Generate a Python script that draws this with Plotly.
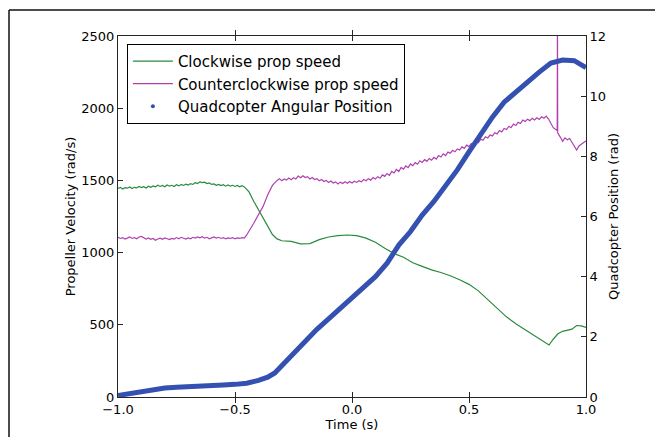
import plotly.graph_objects as go

# ---- data ----
# Clockwise prop speed (rad/s)
cw_t_early = [round(-1.00 + 0.01 * i, 2) for i in range(55)]          # -1.00 .. -0.46
cw_early = [1445, 1452, 1440, 1450, 1446, 1455, 1444, 1452, 1448, 1458,
            1450, 1456, 1447, 1460, 1452, 1462, 1455, 1466, 1458, 1465,
            1456, 1468, 1460, 1466, 1458, 1470, 1462, 1472, 1465, 1474,
            1468, 1478, 1472, 1484, 1478, 1490, 1485, 1488, 1478, 1482,
            1472, 1476, 1466, 1472, 1464, 1470, 1460, 1468, 1460, 1466,
            1458, 1465, 1456, 1464, 1455]
cw_t_late = [-0.44, -0.42, -0.40, -0.38, -0.36, -0.34, -0.32, -0.30, -0.26, -0.22, -0.18,
             -0.14, -0.10, -0.06, -0.02, 0.02, 0.06, 0.10, 0.14, 0.18, 0.22, 0.26, 0.30, 0.34,
             0.38, 0.42, 0.46, 0.50, 0.54, 0.58, 0.62, 0.66, 0.70, 0.74, 0.78, 0.82, 0.842,
             0.86, 0.88, 0.90, 0.92, 0.94, 0.96, 0.98, 1.0]
cw_late = [1420, 1355, 1295, 1235, 1180, 1125, 1095, 1082, 1078, 1060, 1062,
           1090, 1108, 1118, 1122, 1117, 1100, 1072, 1030, 993, 968, 930, 905, 880,
           862, 840, 812, 780, 735, 675, 610, 555, 508, 465, 425, 385, 360,
           400, 438, 455, 462, 470, 495, 492, 482]

# Counterclockwise prop speed (rad/s)
ccw_t_early = [round(-1.00 + 0.01 * i, 2) for i in range(55)]         # -1.00 .. -0.46
ccw_early = [1106, 1098, 1104, 1094, 1100, 1108, 1098, 1104, 1096, 1108,
             1112, 1100, 1094, 1102, 1092, 1098, 1086, 1094, 1100, 1092,
             1102, 1096, 1090, 1098, 1094, 1104, 1096, 1106, 1100, 1094,
             1102, 1096, 1106, 1100, 1108, 1102, 1110, 1100, 1106, 1096,
             1102, 1108, 1100, 1106, 1098, 1104, 1096, 1102, 1098, 1104,
             1096, 1102, 1098, 1104, 1100]
ccw_t_rise = [-0.45, -0.42, -0.40, -0.38, -0.36, -0.34, -0.32]
ccw_rise = [1122, 1203, 1260, 1320, 1400, 1465, 1500]
ccw_t_mid = [round(-0.31 + 0.01 * i, 2) for i in range(118)]           # -0.31 .. 0.86
ccw_mid = [1512, 1498, 1510, 1502, 1516, 1505, 1518, 1510, 1530, 1518,
           1532, 1520, 1526, 1510, 1520, 1506, 1512, 1498, 1506, 1492,
           1500, 1486, 1496, 1482, 1490, 1476, 1488, 1478, 1490, 1480,
           1492, 1482, 1494, 1486, 1498, 1490, 1506, 1498, 1512, 1502,
           1520, 1510, 1526, 1515, 1538, 1528, 1548, 1535, 1562, 1552,
           1576, 1562, 1590, 1578, 1600, 1588, 1614, 1602, 1624, 1612,
           1636, 1624, 1644, 1632, 1652, 1640, 1660, 1648, 1672, 1662,
           1684, 1672, 1696, 1688, 1708, 1698, 1718, 1710, 1732, 1722,
           1744, 1734, 1756, 1748, 1772, 1762, 1786, 1778, 1802, 1794,
           1814, 1808, 1830, 1822, 1846, 1836, 1860, 1852, 1874, 1866,
           1890, 1880, 1902, 1894, 1918, 1908, 1924, 1914, 1930, 1918,
           1934, 1922, 1940, 1930, 1945, 1925, 1890, 1865]
ccw_t_tail = [0.877, 0.878, 0.879, 0.89, 0.90, 0.91, 0.92, 0.93, 0.94, 0.95, 0.96, 0.97,
              0.98, 0.99, 1.0]
ccw_tail = [1845, 2700, 1830, 1800, 1770, 1795, 1782, 1790, 1760, 1735, 1710, 1738,
            1752, 1762, 1772]

# Quadcopter angular position (rad)
pos_t = [-1.0, -0.95, -0.9, -0.85, -0.8, -0.75, -0.7, -0.65, -0.6, -0.55, -0.5, -0.45, -0.4,
         -0.36, -0.33, -0.3, -0.25, -0.2, -0.15, -0.1, -0.05, 0.0, 0.05, 0.1, 0.15, 0.2, 0.25,
         0.3, 0.35, 0.4, 0.45, 0.5, 0.55, 0.6, 0.65, 0.7, 0.75, 0.8, 0.85, 0.9, 0.95, 1.0]
pos_rad = [0.05, 0.12, 0.2, 0.25, 0.3, 0.32, 0.33, 0.34, 0.37, 0.40, 0.42, 0.46, 0.55,
           0.66, 0.80, 1.05, 1.45, 1.85, 2.25, 2.6, 2.95, 3.3, 3.65, 4.0, 4.45, 5.05, 5.5,
           6.05, 6.5, 7.0, 7.55, 8.15, 8.75, 9.3, 9.8, 10.15, 10.45, 10.8, 11.1, 11.2, 11.18, 10.95]

x_ticks = [-1.0, -0.5, 0.0, 0.5, 1.0]
x_ticktext = ["\u22121.0", "\u22120.5", "0.0", "0.5", "1.0"]

assert len(cw_t_early) == len(cw_early) and len(cw_t_late) == len(cw_late)
assert len(ccw_t_early) == len(ccw_early) and len(ccw_t_rise) == len(ccw_rise)
assert len(ccw_t_mid) == len(ccw_mid) and len(ccw_t_tail) == len(ccw_tail)
assert len(pos_t) == len(pos_rad)

cw_t = cw_t_early + cw_t_late
cw_speed = cw_early + cw_late
ccw_t = ccw_t_early + ccw_t_rise + ccw_t_mid + ccw_t_tail
ccw_speed = ccw_early + ccw_rise + ccw_mid + ccw_tail

FONT = "DejaVu Sans"
AX = "#262626"

fig = go.Figure()
fig.add_trace(go.Scatter(x=cw_t, y=cw_speed, mode="lines", name="Clockwise prop speed",
                         line=dict(color="#2a8a3e", width=1.2)))
fig.add_trace(go.Scatter(x=ccw_t, y=ccw_speed, mode="lines", name="Counterclockwise prop speed",
                         line=dict(color="#b040b0", width=1.2)))
fig.add_trace(go.Scatter(x=pos_t, y=pos_rad, mode="lines", name="Quadcopter Angular Position",
                         yaxis="y2", showlegend=False,
                         line=dict(color="#3450b0", width=5)))
fig.add_trace(go.Scatter(x=[None], y=[None], mode="markers", name="Quadcopter Angular Position",
                         yaxis="y2", marker=dict(color="#3450b0", size=4)))

axis_common = dict(ticks="inside", ticklen=5, tickcolor=AX, tickwidth=1, showline=True,
                   linecolor=AX, linewidth=1, showgrid=False, zeroline=False, automargin=False,
                   tickfont=dict(family=FONT, size=13, color="#000"))

# the page body adds an 8px offset, so the figure is 8px smaller and margins shifted
fig.update_layout(
    width=655, height=429,
    margin=dict(l=110, r=77, t=28, b=40, autoexpand=False),
    paper_bgcolor="white", plot_bgcolor="white",
    font=dict(family=FONT, size=13, color="#000"),
    xaxis=dict(range=[-1, 1], tickvals=x_ticks, ticktext=x_ticktext, mirror="allticks",
               title=dict(text="Time (s)", font=dict(family=FONT, size=13), standoff=4),
               **axis_common),
    yaxis=dict(range=[0, 2500], dtick=500, mirror=False,
               title=dict(text="Propeller Velocity (rad/s)", font=dict(family=FONT, size=13),
                          standoff=2),
               **axis_common),
    yaxis2=dict(range=[0, 12], dtick=2, overlaying="y", side="right",
                title=dict(text="Quadcopter Position (rad)", font=dict(family=FONT, size=13),
                           standoff=3),
                **axis_common),
    legend=dict(x=0.019, y=0.978, xanchor="left", yanchor="top", bgcolor="white",
                bordercolor="#000", borderwidth=1, font=dict(family=FONT, size=15),
                tracegroupgap=0, itemwidth=40),
    showlegend=True,
    shapes=[
        dict(type="line", xref="paper", yref="paper", x0=-0.2329, x1=1.2, y0=1.072, y1=1.072,
             line=dict(color="#111", width=1.5)),
        dict(type="line", xref="paper", yref="paper", x0=-0.2329, x1=-0.2329, y0=1.072, y1=-0.2,
             line=dict(color="#111", width=1.5)),
    ],
)

fig.write_html("out.html", config={"displayModeBar": False})
